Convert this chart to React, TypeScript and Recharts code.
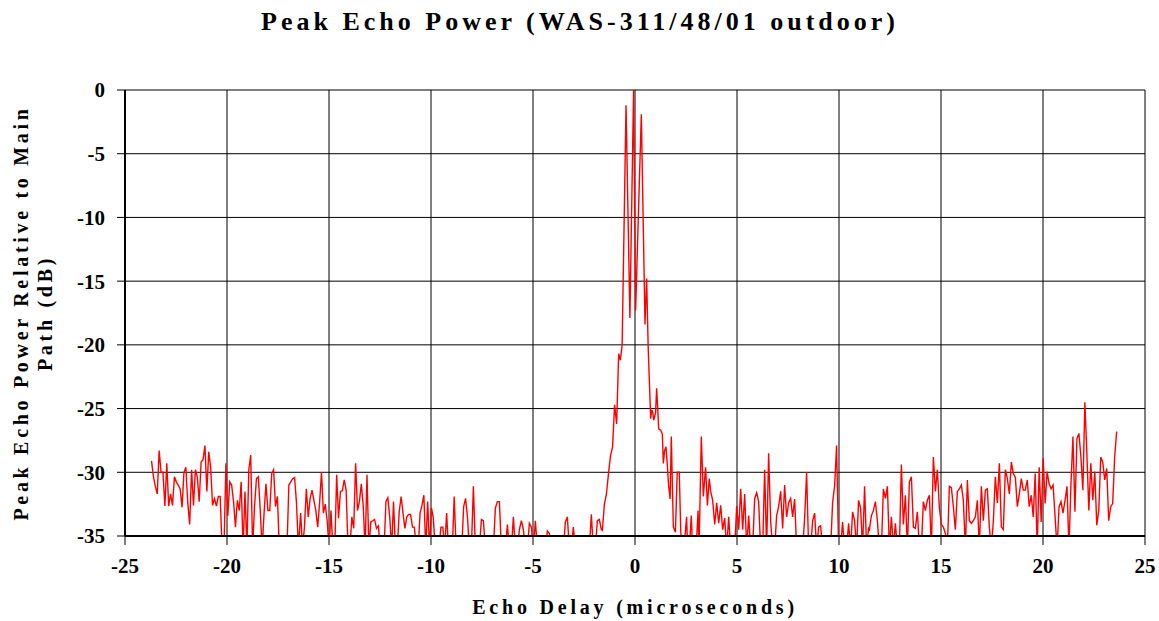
import { LineChart, Line, XAxis, YAxis, CartesianGrid } from "recharts";

const xTicks = [-25, -20, -15, -10, -5, 0, 5, 10, 15, 20, 25];
const yTicks = [-35, -30, -25, -20, -15, -10, -5, 0];

// readings in dB; -36 means "below the -35 floor" (clipped by the axis)
// -23.7 .. -16.5 us
const segA = [
  -29.1, -30.35, -31.1, -31.7, -28.3, -30.0, -30.0, -32.65, -29.3, -32.65,
  -31.7, -32.6, -30.35, -30.75, -31.0, -31.3, -32.75, -30.0, -29.6, -32.4,
  -34.1, -29.8, -32.6, -29.8, -30.35, -32.3, -29.2, -29.0, -27.9, -31.5,
  -28.4, -29.6, -32.6, -32.05, -32.65, -31.9, -31.9, -36, -36, -29.3,
  -33.4, -30.75, -31.0, -32.3, -34.3, -32.2, -33.0, -30.75, -36, -31.5,
  -36, -29.8, -28.65, -36, -32.7, -30.5, -30.35, -33.0, -36, -33.2,
  -30.9, -33.0, -33.0, -30.1, -29.8, -32.7, -31.9, -36, -36, -36,
  -36, -36, -31.0, -30.75, -30.5, -30.4, -32.4, -36,
];

// -16.39 .. -8.12 us
const segB = [
  -33.2, -36, -34.3, -31.3, -33.5, -32.05, -31.4, -32.2, -33.0, -34.3,
  -32.4, -30.0, -33.2, -32.5, -33.8, -36, -33.0, -36, -36, -30.2,
  -33.6, -31.5, -31.45, -30.6, -31.4, -36, -36, -33.5, -34.4, -29.3,
  -33.0, -32.3, -30.9, -32.6, -36, -30.2, -36, -33.9, -33.8, -33.7,
  -34.4, -34.2, -36, -36, -36, -32.3, -32.0, -33.5, -36, -32.3,
  -36, -36, -33.1, -31.9, -33.2, -34.4, -33.5, -33.3, -33.3, -34.3,
  -34.3, -36, -36, -33.2, -32.6, -31.8, -36, -32.3, -36, -32.8,
  -33.6, -36, -36, -36, -34.3, -34.3, -36, -33.2, -36, -36,
  -36, -31.9, -36, -36, -36, -36, -32.7, -32.05, -33.5, -36,
];

// -8.02 .. -1.65 us
const segC = [
  -36, -31.1, -36, -36, -36, -33.7, -33.8, -36, -36, -36,
  -36, -36, -32.8, -32.3, -32.3, -36, -36, -36, -34.1, -36,
  -36, -33.5, -36, -36, -34.5, -33.8, -34.5, -36, -36, -34.0,
  -34.3, -36, -33.8, -36, -36, -36, -36, -36, -34.6, -34.8,
  -36, -36, -36, -36, -36, -36, -36, -33.9, -33.5, -36,
  -36, -34.3, -36, -36, -36, -36, -36, -36, -36, -36,
  -33.3, -36, -36, -33.8, -33.7, -34.5,
];

// main path region, read point by point
const centreDelay = [
  -1.6, -1.5, -1.4, -1.3, -1.2, -1.1, -1.0, -0.9, -0.8, -0.72,
  -0.63, -0.54, -0.44, -0.35, -0.25, -0.16, -0.07, 0.03, 0.12, 0.21,
  0.31, 0.4, 0.49, 0.57, 0.65, 0.77, 0.82, 0.87, 0.92, 1.01,
  1.06, 1.11, 1.16, 1.26, 1.34, 1.39, 1.45, 1.52, 1.58, 1.65,
  1.72, 1.78, 1.83, 1.88, 1.98, 2.07, 2.17, 2.24, 2.3, 2.4,
  2.53, 2.58, 2.66, 2.76, 2.82, 2.92, 3.0, 3.09, 3.14, 3.25,
  3.35, 3.46, 3.55, 3.64,
];
const centreDb = [
  -34.55, -32.5, -31.7, -30.1, -28.7, -28.0, -24.7, -26.2, -20.7, -21.2,
  -20.0, -11.1, -1.2, -9.1, -17.9, -8.95, 0, -17.3, -12.35, -7.4,
  -1.9, -10.15, -18.4, -14.8, -20.4, -25.8, -25.1, -25.3, -25.9, -25.3,
  -23.4, -24.9, -26.6, -26.7, -27.0, -29.3, -28.3, -28.0, -29.3, -31.1,
  -32.1, -27.2, -30.9, -34.3, -34.7, -30.0, -30.0, -34.5, -36, -36,
  -33.5, -36, -36, -33.4, -36, -36, -36, -33.0, -36, -27.2,
  -31.9, -29.6, -32.6, -30.5,
];

// 3.71 .. 11.45 us
const segE = [
  -31.5, -32.2, -34.1, -32.4, -34.0, -32.6, -34.5, -33.6, -36, -33.5,
  -36, -36, -36, -32.65, -34.5, -31.3, -34.5, -31.7, -36, -33.4,
  -36, -36, -32.05, -31.6, -32.3, -36, -36, -29.8, -36, -28.5,
  -33.8, -36, -36, -33.4, -32.7, -31.5, -34.4, -31.0, -33.5, -32.4,
  -32.05, -33.5, -32.1, -36, -36, -36, -36, -33.6, -30.0, -36,
  -36, -33.8, -33.2, -36, -34.3, -34.2, -36, -36, -36, -36,
  -36, -32.4, -31.1, -27.9, -36, -36, -33.9, -36, -36, -34.0,
  -36, -33.1, -33.8, -36, -32.2, -32.8, -36, -31.1, -36, -34.4,
];

// 11.49 .. 18.35 us
const segF = [
  -34.5, -33.4, -33.0, -32.3, -33.8, -36, -36, -31.3, -32.05, -31.1,
  -36, -33.5, -36, -34.0, -36, -36, -29.4, -34.1, -31.8, -36,
  -30.75, -30.35, -34.3, -34.4, -33.1, -36, -36, -32.3, -33.0, -32.2,
  -31.8, -36, -28.8, -31.5, -29.8, -32.8, -34.1, -34.3, -34.8, -36,
  -31.1, -31.2, -32.7, -34.5, -31.5, -31.3, -31.0, -32.2, -36, -30.6,
  -33.8, -34.0, -33.8, -33.5, -32.2, -36, -31.1, -33.8, -31.4, -31.3,
  -34.3, -36, -33.8, -30.35, -32.4, -29.3, -34.3, -34.5, -29.8, -30.5,
  -31.7,
];

// 18.45 .. 23.61 us
const segG = [
  -29.2, -30.1, -30.4, -32.7, -31.7, -30.5, -31.4, -31.4, -30.6, -32.7,
  -31.8, -33.5, -30.1, -36, -29.6, -33.9, -28.9, -32.45, -29.95, -30.9,
  -31.3, -31.0, -33.5, -36, -32.7, -32.3, -33.2, -32.2, -31.1, -36,
  -30.9, -27.2, -33.1, -27.35, -26.95, -28.8, -31.4, -24.5, -28.5, -33.0,
  -29.3, -32.2, -29.95, -34.15, -33.0, -28.8, -29.2, -30.6, -29.7, -33.8,
  -32.7, -32.45, -28.8, -26.8,
];

function spread(from: number, to: number, vals: number[]) {
  return vals.map((db, i) => ({
    delay: +(from + ((to - from) * i) / (vals.length - 1)).toFixed(3),
    db,
  }));
}

const data = [
  ...spread(-23.7, -16.5, segA),
  ...spread(-16.39, -8.12, segB),
  ...spread(-8.02, -1.65, segC),
  ...centreDelay.map((delay, i) => ({ delay, db: centreDb[i] })),
  ...spread(3.71, 11.45, segE),
  ...spread(11.49, 18.35, segF),
  ...spread(18.45, 23.61, segG),
];

const serif = '"Liberation Serif", "Times New Roman", serif';
const tickStyle = { fill: "#000", fontSize: 21, fontWeight: 700, fontFamily: serif };

export default function App() {
  return (
    <div style={{ position: "absolute", left: 0, top: 0, width: 1159, height: 621, background: "#fff", fontFamily: serif }}>
      <LineChart width={1159} height={621} data={data} margin={{ top: 90, right: 14, bottom: 40, left: 0 }}>
        <CartesianGrid stroke="#000" strokeWidth={1} />
        <XAxis
          type="number"
          dataKey="delay"
          domain={[-25, 25]}
          ticks={xTicks}
          interval={0}
          allowDataOverflow
          height={45}
          tickSize={9}
          tickMargin={13}
          axisLine={{ stroke: "#000", strokeWidth: 2 }}
          tickLine={{ stroke: "#000" }}
          tick={tickStyle}
        />
        <YAxis
          type="number"
          domain={[-35, 0]}
          ticks={yTicks}
          interval={0}
          allowDataOverflow
          width={125}
          tickSize={8}
          tickMargin={12}
          axisLine={{ stroke: "#000", strokeWidth: 2 }}
          tickLine={{ stroke: "#000" }}
          tick={tickStyle}
        />
        <Line
          type="linear"
          dataKey="db"
          stroke="#ff0000"
          strokeWidth={1.4}
          dot={false}
          isAnimationActive={false}
        />
      </LineChart>
      <div
        style={{
          position: "absolute", left: 580, top: 22, transform: "translate(-50%, -50%)",
          fontSize: 26, fontWeight: 700, letterSpacing: 4, whiteSpace: "nowrap",
        }}
      >
        Peak Echo Power (WAS-311/48/01 outdoor)
      </div>
      <div
        style={{
          position: "absolute", left: 33, top: 313, transform: "translate(-50%, -50%) rotate(-90deg)",
          fontSize: 20, fontWeight: 700, letterSpacing: 3.7, whiteSpace: "nowrap",
          textAlign: "center", lineHeight: "24px",
        }}
      >
        Peak Echo Power Relative to Main
        <br />
        Path (dB)
      </div>
      <div
        style={{
          position: "absolute", left: 635, top: 607, transform: "translate(-50%, -50%)",
          fontSize: 20, fontWeight: 700, letterSpacing: 3.8, whiteSpace: "nowrap",
        }}
      >
        Echo Delay (microseconds)
      </div>
    </div>
  );
}
